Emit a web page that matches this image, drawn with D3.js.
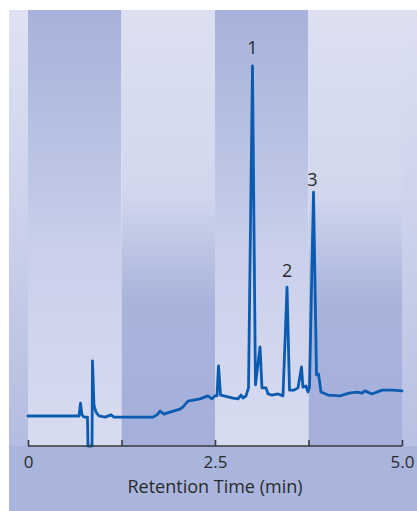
<!DOCTYPE html>
<html>
<head>
<meta charset="utf-8">
<script src="https://cdn.jsdelivr.net/npm/d3@7"></script>
<style>
  html, body { margin: 0; padding: 0; background: #ffffff; }
  svg { display: block; }
  text { font-family: "Open Sans", Lato, sans-serif; fill: #2a2a2a; }
</style>
</head>
<body>
<svg id="chart" width="417" height="511"></svg>
<script>
// Chromatogram trace: retention time (min) and detector signal (relative units)
const times = [
  0, 0.682, 0.702, 0.722, 0.749, 0.795, 0.802, 0.856, 0.862, 0.882,
  0.909, 0.949, 1.029, 1.110, 1.150, 1.671, 1.725, 1.765, 1.818, 1.898,
  2.032, 2.072, 2.139, 2.299, 2.406, 2.460, 2.500, 2.527, 2.547, 2.574,
  2.620, 2.741, 2.807, 2.848, 2.874, 2.914, 2.948, 3.001, 3.041, 3.102,
  3.128, 3.182, 3.209, 3.262, 3.342, 3.409, 3.463, 3.496, 3.556, 3.610,
  3.656, 3.676, 3.717, 3.743, 3.763, 3.817, 3.857, 3.884, 3.917, 4.011,
  4.171, 4.291, 4.398, 4.465, 4.505, 4.599, 4.733, 4.880, 5.000
];
const signal = [
  7.9, 7.9, 11.3, 8.2, 7.6, 7.6, 0, 0, 22.4, 10.8,
  8.9, 7.9, 7.6, 8.2, 7.6, 7.6, 8.2, 9.2, 8.4, 8.9,
  9.7, 10.3, 11.8, 12.4, 13.2, 12.4, 13.2, 13.2, 21.1, 13.4,
  13.2, 12.6, 12.4, 13.4, 12.6, 13.2, 15.3, 100, 16.1, 26.1,
  15.3, 15.3, 13.7, 13.4, 13.7, 13.2, 41.8, 14.7, 14.7, 15.3,
  20.8, 15.5, 15.8, 14.2, 15.5, 66.8, 18.7, 18.9, 14.2, 13.4,
  13.2, 13.9, 14.2, 13.9, 14.5, 13.7, 14.7, 14.7, 14.5
];

// Numbered peaks: retention time and signal at the apex
const peakLabels = ["1", "2", "3"];
const peakTimes = [3.001, 3.463, 3.817];
const peakSignals = [100, 41.8, 66.8];

// Axis ticks
const tickValues = [0, 1.25, 2.5, 3.75, 5.0];
const tickLabels = ["0", "", "2.5", "", "5.0"];
const bandEdges = [0, 1.25, 2.5, 3.75, 5.0];
const axisTitle = "Retention Time (min)";

const svg = d3.select("#chart");
const panel = { left: 9, top: 10, right: 417, bottom: 511 };
const plot = { top: 10, bottom: 446 };

const x = d3.scaleLinear().domain([0, 5]).range([28, 402]);
const y = d3.scaleLinear().domain([0, 100]).range([446, 66]);

const defs = svg.append("defs");
function grad(id, stops) {
  const g = defs.append("linearGradient").attr("id", id)
    .attr("x1", 0).attr("y1", 0).attr("x2", 0).attr("y2", 1);
  stops.forEach(([o, c]) => g.append("stop").attr("offset", o).attr("stop-color", c));
}
grad("bandDarkTop", [[0, "#a6b2db"], [0.37, "#bcc5e5"], [0.55, "#cad0eb"], [1, "#d8dcf0"]]);
grad("bandLightTop", [[0, "#dde0f1"], [0.42, "#d2d7ed"], [0.67, "#a8b4dc"], [1, "#a4b0da"]]);
grad("stripLeft", [[0, "#dfe2f2"], [0.5, "#cbd1eb"], [1, "#b3bde1"]]);
grad("stripRight", [[0, "#dde0f1"], [0.4, "#cfd5ec"], [1, "#b8c1e3"]]);

// Backdrop: bottom band and side strips
svg.append("rect")
  .attr("x", panel.left).attr("y", plot.bottom)
  .attr("width", panel.right - panel.left).attr("height", panel.bottom - plot.bottom)
  .attr("fill", "#a9b5dd");
svg.append("rect")
  .attr("x", panel.left).attr("y", plot.top)
  .attr("width", x(0) - panel.left).attr("height", plot.bottom - plot.top)
  .attr("fill", "url(#stripLeft)");
svg.append("rect")
  .attr("x", x(5)).attr("y", plot.top)
  .attr("width", panel.right - x(5)).attr("height", plot.bottom - plot.top)
  .attr("fill", "url(#stripRight)");

// Alternating shaded time bands
svg.append("g").selectAll("rect")
  .data(d3.pairs(bandEdges))
  .join("rect")
  .attr("x", d => x(d[0]))
  .attr("y", plot.top)
  .attr("width", d => x(d[1]) - x(d[0]))
  .attr("height", plot.bottom - plot.top)
  .attr("fill", (d, i) => i % 2 === 0 ? "url(#bandDarkTop)" : "url(#bandLightTop)");

// Trace
const data = times.map((t, i) => ({ t, v: signal[i] }));
const line = d3.line().x(d => x(d.t)).y(d => y(d.v));
svg.append("path")
  .datum(data)
  .attr("d", line)
  .attr("fill", "none")
  .attr("stroke", "#0b5cb0")
  .attr("stroke-width", 2.8)
  .attr("stroke-linejoin", "round")
  .attr("stroke-linecap", "round");

// Peak numbers, set just above each apex
const labelGap = [12, 10, 6];
svg.append("g").selectAll("text")
  .data(peakLabels)
  .join("text")
  .attr("x", (d, i) => x(peakTimes[i]) + [0, 0, -1][i])
  .attr("y", (d, i) => y(peakSignals[i]) - labelGap[i])
  .attr("text-anchor", "middle")
  .attr("font-size", 18)
  .text(d => d);

// Time axis with upward ticks
const axis = d3.axisBottom(x)
  .tickValues(tickValues)
  .tickSize(0)
  .tickFormat((d, i) => tickLabels[i]);
const gx = svg.append("g").attr("transform", `translate(0,${plot.bottom})`).call(axis);
gx.select(".domain")
  .attr("d", `M${x(0)},0H${x(5)}`)
  .attr("stroke", "#3a3a3a").attr("stroke-width", 1.6);
gx.selectAll(".tick line")
  .attr("y1", 0).attr("y2", -6)
  .attr("stroke", "#3a3a3a").attr("stroke-width", 1.6);
gx.selectAll(".tick text")
  .attr("y", 22).attr("dy", 0)
  .attr("font-size", 17)
  .attr("font-family", "'Open Sans', Lato, sans-serif")
  .attr("fill", "#2a2a2a");

svg.append("text")
  .attr("x", x(2.5))
  .attr("y", 493)
  .attr("text-anchor", "middle")
  .attr("font-size", 18)
  .text(axisTitle);
</script>
</body>
</html>
